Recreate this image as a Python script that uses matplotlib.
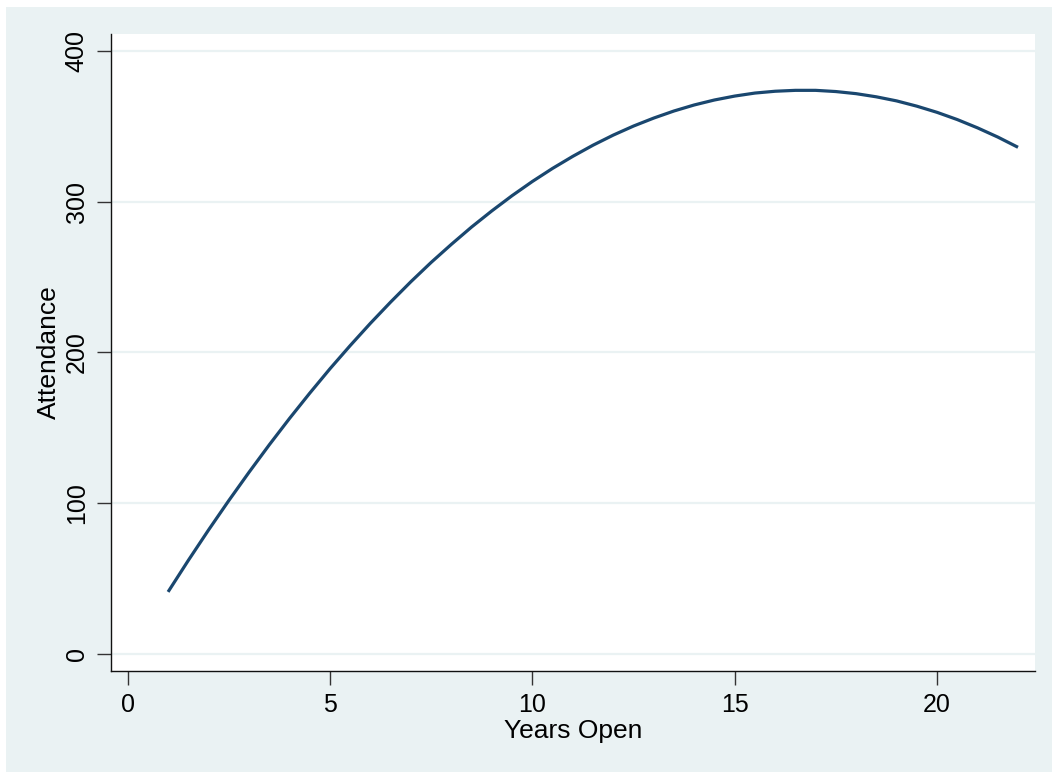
import matplotlib
matplotlib.use("Agg")
import matplotlib.pyplot as plt
from matplotlib.patches import Rectangle

# values (every half year)
years_open = [1, 1.5, 2, 2.5, 3, 3.5, 4, 4.5, 5, 5.5, 6, 6.5, 7, 7.5, 8, 8.5,
              9, 9.5, 10, 10.5, 11, 11.5, 12, 12.5, 13, 13.5, 14, 14.5, 15, 15.5,
              16, 16.5, 17, 17.5, 18, 18.5, 19, 19.5, 20, 20.5, 21, 21.5, 22]
attendance = [41.0, 61.9, 82.1, 101.6, 120.4, 138.6, 156.1, 172.9, 189.1, 204.5,
              219.3, 233.4, 246.9, 259.7, 271.7, 283.2, 293.9, 304.0, 313.4, 322.1,
              330.1, 337.5, 344.2, 350.2, 355.5, 360.2, 364.2, 367.5, 370.1, 372.1,
              373.3, 373.9, 373.9, 373.1, 371.7, 369.6, 366.9, 363.4, 359.3, 354.5,
              349.0, 342.9, 336.1]
x_ticks = [0, 5, 10, 15, 20]
y_ticks = [0, 100, 200, 300, 400]

bg = "#EAF2F3"
plt.rcParams["font.family"] = ["Liberation Sans", "DejaVu Sans"]

fig = plt.figure(figsize=(10.52, 7.72), dpi=100, facecolor="white")
# stata-like graph region
fig.patches.append(Rectangle((6 / 1052, 0), 1, 1 - 7 / 772, transform=fig.transFigure,
                             facecolor=bg, edgecolor="none", zorder=-10))

ax = fig.add_axes([111 / 1052, 1 - 671 / 772, (1035 - 111) / 1052, (671 - 34) / 772])
ax.set_facecolor("white")

ax.plot(years_open, attendance, color="#1A476F", linewidth=2.3,
        solid_capstyle="butt", solid_joinstyle="round")

ax.set_xlim(-0.41, 22.42)
ax.set_ylim(-11.5, 411.3)
ax.set_xticks(x_ticks)
ax.set_yticks(y_ticks)
ax.set_yticklabels([str(v) for v in y_ticks], rotation=90, va="center")
ax.tick_params(axis="both", direction="out", length=10, width=1, color="#333333",
               labelsize=18, pad=6)
ax.grid(axis="y", color=bg, linewidth=1.6)
ax.set_axisbelow(True)

for side in ["top", "right"]:
    ax.spines[side].set_visible(False)
for side in ["left", "bottom"]:
    ax.spines[side].set_color("#111111")
    ax.spines[side].set_linewidth(1)

ax.set_xlabel("Years Open", fontsize=19, labelpad=1)
ax.set_ylabel("Attendance", fontsize=19, labelpad=3)

fig.savefig("out.png", dpi=100, facecolor=fig.get_facecolor())
